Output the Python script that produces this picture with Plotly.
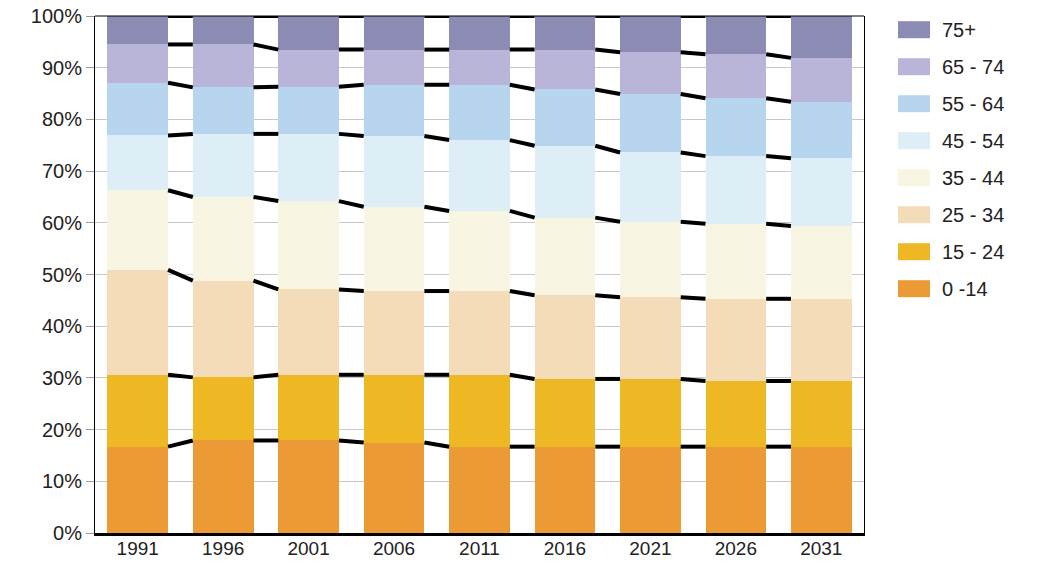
import numpy as np
import plotly.graph_objects as go

years = ["1991", "1996", "2001", "2006", "2011", "2016", "2021", "2026", "2031"]
groups = ["0 -14", "15 - 24", "25 - 34", "35 - 44", "45 - 54", "55 - 64", "65 - 74", "75+"]

age_0_14 = [16.7, 17.9, 17.9, 17.5, 16.7, 16.7, 16.7, 16.7, 16.7]
age_15_24 = [13.9, 12.2, 12.7, 13.1, 13.9, 13.1, 13.1, 12.7, 12.7]
age_25_34 = [20.3, 18.7, 16.5, 16.2, 16.2, 16.2, 15.8, 15.9, 15.9]
age_35_44 = [15.4, 16.2, 17.1, 16.3, 15.5, 15.0, 14.6, 14.5, 14.1]
age_45_54 = [10.6, 12.2, 13.0, 13.7, 13.7, 13.9, 13.4, 13.1, 13.1]
age_55_64 = [10.2, 9.0, 9.1, 9.9, 10.7, 10.9, 11.3, 11.2, 10.9]
age_65_74 = [7.4, 8.3, 7.2, 6.8, 6.8, 7.7, 8.1, 8.5, 8.5]
age_75p = [5.5, 5.5, 6.5, 6.5, 6.5, 6.5, 7.0, 7.4, 8.1]

colors = ["#EC9A35", "#EDB824", "#F5DCB9", "#F8F6E3", "#DDEEF7", "#B7D5EF", "#B9B5D8", "#8B8BB3"]

series = [age_0_14, age_15_24, age_25_34, age_35_44, age_45_54, age_55_64, age_65_74, age_75p]

data = np.array(series, dtype=float)
data = data / data.sum(axis=0) * 100.0
cum = np.cumsum(data, axis=0)

xs = np.arange(len(years))
bargap = 0.29
hw = (1 - bargap) / 2

fig = go.Figure()
for name, vals, col in zip(groups, data, colors):
    fig.add_trace(go.Bar(
        x=xs, y=vals, name=name, marker=dict(color=col, line=dict(width=0)),
        showlegend=False,
    ))

# connector lines between bars at each boundary
lx, ly = [], []
for k in range(cum.shape[0]):
    for i in range(len(years) - 1):
        lx += [xs[i] + hw, xs[i + 1] - hw, None]
        ly += [cum[k, i], cum[k, i + 1], None]
fig.add_trace(go.Scatter(x=lx, y=ly, mode="lines",
                         line=dict(color="black", width=4),
                         showlegend=False, hoverinfo="skip", cliponaxis=False))

# page geometry (window pixels); the page body has an 8px margin
OFF = 8
WIN_W, WIN_H = 1042, 567
W, H = WIN_W - 2 * OFF, WIN_H - 2 * OFF
L, R, T, B = 95, 864, 16, 533          # plot area in window pixels
pw, ph = R - L, B - T

shapes = [dict(type="line", xref="paper", yref="paper", x0=0, x1=1, y0=1, y1=1,
               line=dict(color="black", width=1))]
annotations = []
# custom legend (top-down: 75+ first)
for j, (name, col) in enumerate(zip(groups[::-1], colors[::-1])):
    cy = 29.7 + 37 * j
    shapes.append(dict(type="rect", xref="paper", yref="paper",
                       x0=(898 - L) / pw, x1=(930 - L) / pw,
                       y0=(B - (cy + 8.5)) / ph, y1=(B - (cy - 8.5)) / ph,
                       fillcolor=col, line=dict(width=0)))
    annotations.append(dict(xref="paper", yref="paper", x=(940 - L) / pw,
                            y=(B - cy) / ph, text=name, showarrow=False,
                            xanchor="left", yanchor="middle",
                            font=dict(size=20, color="#222222",
                                      family="Liberation Sans, Arial")))

fig.update_layout(
    width=W, height=H,
    margin=dict(l=L - OFF, r=(W + OFF) - R, t=T - OFF, b=(H + OFF) - B, autoexpand=False),
    barmode="stack", bargap=bargap,
    plot_bgcolor="white", paper_bgcolor="white",
    font=dict(family="Liberation Sans, Arial", size=20, color="#222222"),
    shapes=shapes, annotations=annotations,
    xaxis=dict(range=[-0.5, len(years) - 0.5], tickmode="array", tickvals=xs,
               ticktext=years, showgrid=False, zeroline=False, automargin=False,
               showline=True, linecolor="black", linewidth=3, ticks="",
               ticklabelstandoff=-4, ticklabeloverflow="allow",
               tickfont=dict(size=19)),
    yaxis=dict(range=[0, 100], tickmode="array", tickvals=list(range(0, 101, 10)),
               ticktext=[f"{v}%" for v in range(0, 101, 10)], automargin=False,
               ticklabeloverflow="allow",
               showgrid=True, gridcolor="#C8C8C8", gridwidth=1, zeroline=False,
               showline=True, linecolor="black", linewidth=1, mirror=True,
               ticks="outside", ticklen=8, tickcolor="#999999"),
)

fig.write_html("out.html")
